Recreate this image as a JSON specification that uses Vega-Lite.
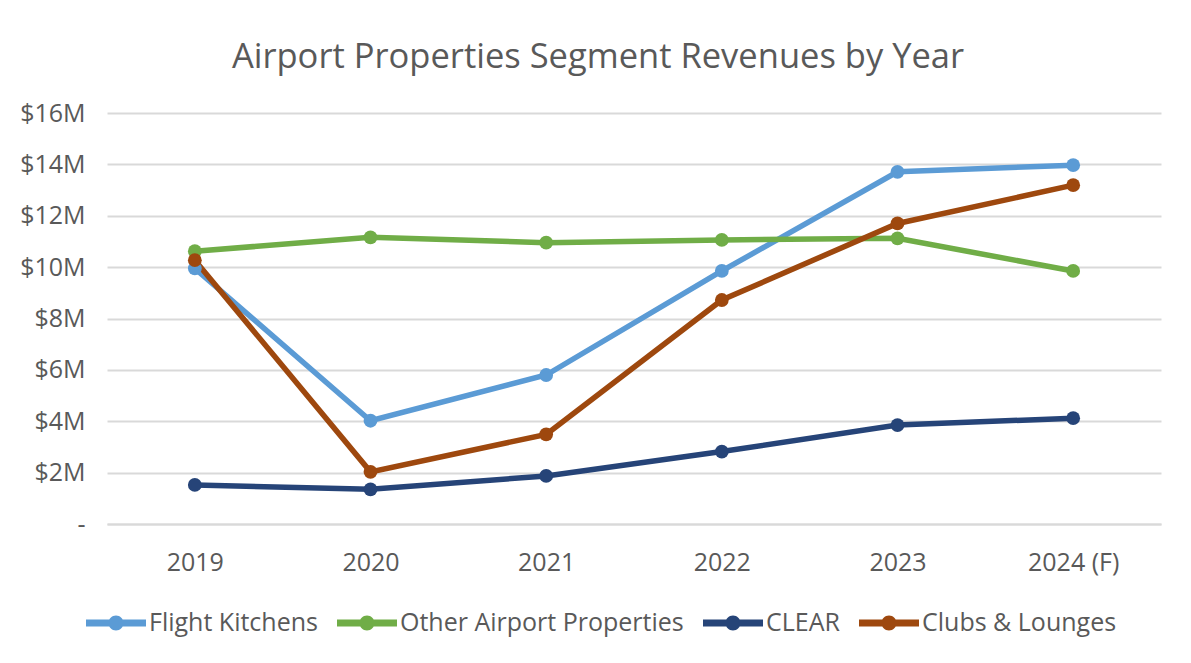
{
  "$schema": "https://vega.github.io/schema/vega-lite/v6.json",
  "width": 1054,
  "height": 411,
  "autosize": {"type": "none"},
  "padding": {"left": 107, "top": 113, "right": 30, "bottom": 128},
  "background": "white",
  "title": {
    "text": "Airport Properties Segment Revenues by Year",
    "font": "Open Sans",
    "fontSize": 34.5,
    "fontWeight": "normal",
    "color": "#595959",
    "anchor": "middle",
    "dx": -36,
    "offset": 26
  },
  "data": {
    "values": [
      {"year": "2019", "series": "Flight Kitchens", "revenue": 9.95},
      {"year": "2020", "series": "Flight Kitchens", "revenue": 4.02},
      {"year": "2021", "series": "Flight Kitchens", "revenue": 5.8},
      {"year": "2022", "series": "Flight Kitchens", "revenue": 9.85},
      {"year": "2023", "series": "Flight Kitchens", "revenue": 13.71},
      {"year": "2024 (F)", "series": "Flight Kitchens", "revenue": 13.97},
      {"year": "2019", "series": "Other Airport Properties", "revenue": 10.62},
      {"year": "2020", "series": "Other Airport Properties", "revenue": 11.16},
      {"year": "2021", "series": "Other Airport Properties", "revenue": 10.95},
      {"year": "2022", "series": "Other Airport Properties", "revenue": 11.06},
      {"year": "2023", "series": "Other Airport Properties", "revenue": 11.12},
      {"year": "2024 (F)", "series": "Other Airport Properties", "revenue": 9.85},
      {"year": "2019", "series": "CLEAR", "revenue": 1.52},
      {"year": "2020", "series": "CLEAR", "revenue": 1.35},
      {"year": "2021", "series": "CLEAR", "revenue": 1.87},
      {"year": "2022", "series": "CLEAR", "revenue": 2.82},
      {"year": "2023", "series": "CLEAR", "revenue": 3.85},
      {"year": "2024 (F)", "series": "CLEAR", "revenue": 4.12},
      {"year": "2019", "series": "Clubs & Lounges", "revenue": 10.27},
      {"year": "2020", "series": "Clubs & Lounges", "revenue": 2.03},
      {"year": "2021", "series": "Clubs & Lounges", "revenue": 3.49},
      {"year": "2022", "series": "Clubs & Lounges", "revenue": 8.72},
      {"year": "2023", "series": "Clubs & Lounges", "revenue": 11.7},
      {"year": "2024 (F)", "series": "Clubs & Lounges", "revenue": 13.19}
    ]
  },
  "encoding": {
    "x": {
      "field": "year",
      "type": "ordinal",
      "sort": null,
      "scale": {"type": "point", "padding": 0.5},
      "axis": {
        "title": null,
        "labelAngle": 0,
        "labelFont": "Open Sans",
        "labelFontSize": 25,
        "labelColor": "#595959",
        "labelPadding": 26,
        "ticks": false,
        "domainColor": "#d9d9d9",
        "domainWidth": 2,
        "grid": false
      }
    },
    "y": {
      "field": "revenue",
      "type": "quantitative",
      "scale": {"domain": [0, 16], "nice": false},
      "axis": {
        "title": null,
        "values": [0, 2, 4, 6, 8, 10, 12, 14, 16],
        "labelExpr": "datum.value == 0 ? '-' : '$' + datum.value + 'M'",
        "labelFont": "Open Sans",
        "labelFontSize": 25,
        "labelColor": "#595959",
        "labelPadding": 22,
        "ticks": false,
        "domain": false,
        "gridColor": "#d9d9d9",
        "gridWidth": 2,
        "encode": {"labels": {"update": {"dx": {"signal": "datum.value == 0 ? -4 : 0"}}}}
      }
    },
    "color": {
      "field": "series",
      "type": "nominal",
      "sort": ["Flight Kitchens", "Other Airport Properties", "CLEAR", "Clubs & Lounges"],
      "scale": {
        "domain": ["Flight Kitchens", "Other Airport Properties", "CLEAR", "Clubs & Lounges"],
        "range": ["#5B9BD5", "#70AD47", "#264478", "#9E480E"]
      },
      "legend": {
        "title": null,
        "orient": "none",
        "legendX": -21,
        "legendY": 480,
        "direction": "horizontal",
        "labelFont": "Open Sans",
        "labelFontSize": 25,
        "labelColor": "#595959",
        "labelLimit": 0,
        "labelOffset": 3,
        "columnPadding": 19,
        "symbolType": "M-1,-0.12 L1,-0.12 L1,0.12 L-1,0.12 Z M-0.25,0 A0.25,0.25 0 1,1 0.25,0 A0.25,0.25 0 1,1 -0.25,0 Z",
        "symbolSize": 3600,
        "symbolStrokeWidth": 0,
        "symbolOpacity": 1
      }
    }
  },
  "layer": [
    {"mark": {"type": "line", "strokeWidth": 5.5}},
    {"mark": {"type": "point", "filled": true, "size": 190, "opacity": 1}}
  ],
  "config": {
    "view": {"stroke": null},
    "font": "Open Sans"
  }
}
